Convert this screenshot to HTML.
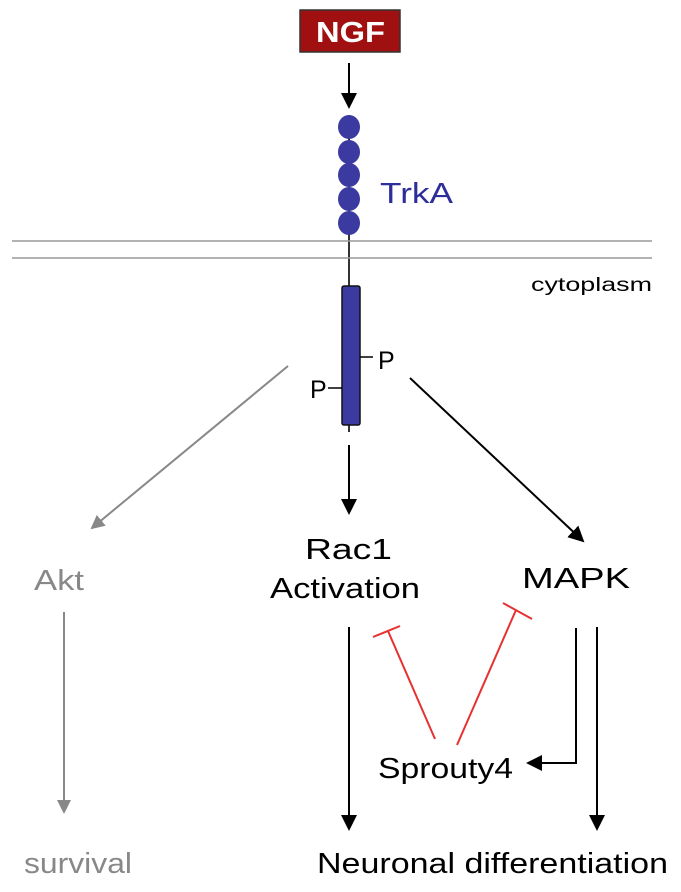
<!DOCTYPE html>
<html><head><meta charset="utf-8"><style>
body{margin:0;background:#fff}
svg{display:block}
text{font-family:"Liberation Sans",Arial,sans-serif}
</style></head><body>
<svg width="681" height="892" viewBox="0 0 681 892">
<defs>
<marker id="ag" markerWidth="14" markerHeight="14" refX="12" refY="7" orient="auto" markerUnits="userSpaceOnUse" viewBox="0 0 14 14"><path d="M0,0L14,7L0,14z" fill="#888"/></marker>
<marker id="ak" markerWidth="16" markerHeight="16" refX="14" refY="8" orient="auto" markerUnits="userSpaceOnUse" viewBox="0 0 16 16"><path d="M0,0L16,8L0,16z" fill="#000"/></marker>
</defs>
<g>
<rect x="300" y="10" width="100" height="42" fill="#a01010" stroke="#333" stroke-width="1.5"/>
<text x="316" y="42" font-size="29" font-weight="bold" fill="#fff" textLength="69" lengthAdjust="spacingAndGlyphs">NGF</text>
</g>
<line x1="349" y1="63" x2="349" y2="107" stroke="#000" stroke-width="2" marker-end="url(#ak)"/>
<line x1="349" y1="115" x2="349" y2="287" stroke="#333" stroke-width="2"/>
<g fill="#3a3aa0">
<ellipse cx="349" cy="127" rx="11" ry="12"/><ellipse cx="349" cy="152" rx="11" ry="12"/><ellipse cx="349" cy="175" rx="11" ry="12"/><ellipse cx="349" cy="199" rx="11" ry="12"/><ellipse cx="349" cy="223" rx="11" ry="12"/>
</g>
<text x="380" y="203" font-size="29" fill="#2e2e9a" textLength="73" lengthAdjust="spacingAndGlyphs">TrkA</text>
<g stroke="#999" stroke-width="1.5">
<line x1="12" y1="241" x2="652" y2="241"/><line x1="12" y1="258" x2="652" y2="258"/>
</g>
<text x="531" y="291" font-size="19" fill="#000" textLength="121" lengthAdjust="spacingAndGlyphs">cytoplasm</text>
<line x1="349" y1="420" x2="349" y2="432" stroke="#333" stroke-width="2"/>
<rect x="342" y="286" width="18" height="139" rx="2" fill="#3a3aa0" stroke="#111" stroke-width="1.5"/>
<line x1="360" y1="357" x2="373" y2="357" stroke="#000" stroke-width="1.5"/>
<text x="378" y="369" font-size="25">P</text>
<line x1="328" y1="388" x2="342" y2="388" stroke="#000" stroke-width="1.5"/>
<text x="310" y="398" font-size="25">P</text>
<line x1="288" y1="366" x2="92" y2="528" stroke="#888" stroke-width="2" marker-end="url(#ag)"/>
<line x1="410" y1="378" x2="583" y2="541" stroke="#000" stroke-width="2" marker-end="url(#ak)"/>
<line x1="349" y1="445" x2="349" y2="513" stroke="#000" stroke-width="2" marker-end="url(#ak)"/>
<text x="305" y="559" font-size="29" textLength="87" lengthAdjust="spacingAndGlyphs">Rac1</text>
<text x="270" y="598" font-size="29" textLength="150" lengthAdjust="spacingAndGlyphs">Activation</text>
<text x="522" y="588" font-size="29" textLength="108" lengthAdjust="spacingAndGlyphs">MAPK</text>
<text x="34" y="590" font-size="29" fill="#888" textLength="50" lengthAdjust="spacingAndGlyphs">Akt</text>
<line x1="64" y1="612" x2="64" y2="812" stroke="#888" stroke-width="2" marker-end="url(#ag)"/>
<text x="24" y="873" font-size="29" fill="#888" textLength="108" lengthAdjust="spacingAndGlyphs">survival</text>
<line x1="349" y1="627" x2="349" y2="829" stroke="#000" stroke-width="2" marker-end="url(#ak)"/>
<line x1="597" y1="627" x2="597" y2="829" stroke="#000" stroke-width="2" marker-end="url(#ak)"/>
<polyline points="576,628 576,763 528,763" fill="none" stroke="#000" stroke-width="2" marker-end="url(#ak)"/>
<g stroke="#e83030" stroke-width="2" fill="none">
<line x1="435" y1="739" x2="388" y2="631"/><line x1="373" y1="637" x2="400" y2="626"/>
<line x1="457" y1="745" x2="516" y2="610"/><line x1="503" y1="603" x2="532" y2="619"/>
</g>
<text x="378" y="778" font-size="29" textLength="135" lengthAdjust="spacingAndGlyphs">Sprouty4</text>
<text x="317" y="873" font-size="29" textLength="351" lengthAdjust="spacingAndGlyphs">Neuronal differentiation</text>
</svg>
</body></html>
